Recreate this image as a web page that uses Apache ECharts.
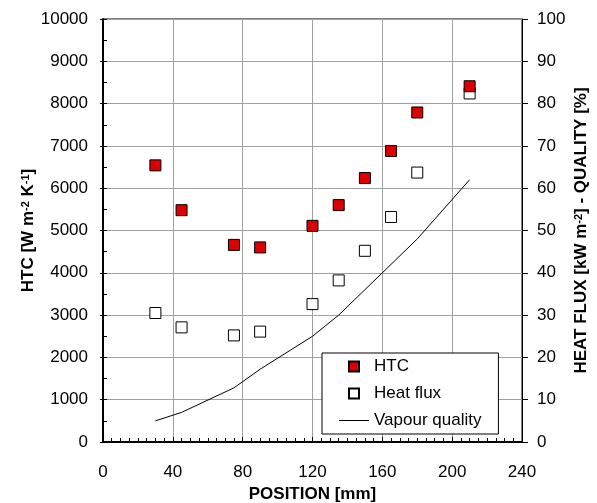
<!DOCTYPE html>
<html>
<head>
<meta charset="utf-8">
<script src="https://cdn.jsdelivr.net/npm/echarts@6/dist/echarts.min.js"></script>
<style>html,body{margin:0;padding:0;background:#fff}#c{width:597px;height:503px}</style>
</head>
<body>
<div id="c"></div>
<script>
var positions = [30, 45, 75, 90, 120, 135, 150, 165, 180, 210];
var htc = [6540, 5480, 4660, 4600, 5110, 5600, 6240, 6880, 7790, 8410];
var heatFlux = [30.5, 27.1, 25.2, 26.1, 32.6, 38.2, 45.2, 53.2, 63.7, 82.4];
var quality = [5, 7, 12.8, 17.2, 25, 30, 36, 42, 48, 62];
var xTicks = [0, 40, 80, 120, 160, 200, 240];

function pairs(xs, ys) { return xs.map(function (x, i) { return [x, ys[i]]; }); }
function plain(v) { return String(v); }

var FONT = 'Liberation Sans, Arial, sans-serif';
var chart = echarts.init(document.getElementById('c'), null, { renderer: 'canvas' });
var supRich = {
  s: { fontSize: 11, fontWeight: 'bold', fontFamily: FONT, color: '#000', verticalAlign: 'top', lineHeight: 12, padding: [0, 0, 8, 0] }
};
var SQUARE = 'path://M0,0L10,0L10,10L0,10Z';
var LINE = 'path://M0,0L30,0L30,1L0,1Z';
chart.setOption({
  animation: false,
  backgroundColor: '#fff',
  textStyle: { fontFamily: FONT },
  grid: { left: 103, right: 75, top: 19, bottom: 61, containLabel: false, outerBoundsMode: 'none',
          show: true, borderColor: '#000', borderWidth: 1, backgroundColor: 'transparent' },
  legend: {
    orient: 'vertical', left: 322, top: 353,
    padding: [5, 17, 5, 17], itemGap: 10, itemWidth: 30, itemHeight: 10,
    backgroundColor: '#fff', borderColor: '#000', borderWidth: 1, borderRadius: 0,
    textStyle: { fontSize: 17, color: '#000', fontFamily: FONT, lineHeight: 17 },
    data: [
      { name: 'HTC', icon: SQUARE },
      { name: 'Heat flux', icon: SQUARE },
      { name: 'Vapour quality', icon: LINE, itemStyle: { color: '#000', borderWidth: 0 } }
    ]
  },
  xAxis: {
    type: 'value', min: 0, max: 240, interval: 40,
    name: 'POSITION [mm]', nameLocation: 'middle', nameGap: 44, nameMoveOverlap: false,
    nameTextStyle: { fontSize: 17, fontWeight: 'bold', color: '#000', fontFamily: FONT },
    axisLine: { show: true, onZero: false, lineStyle: { color: '#000', width: 2 } },
    axisTick: { show: true, inside: true, length: 5, lineStyle: { color: '#000' } },
    minorTick: { show: true, splitNumber: 8, length: 4, lineStyle: { color: '#000' } },
    axisLabel: { fontSize: 17, color: '#000', margin: 22, fontFamily: FONT, formatter: plain },
    splitLine: { show: true, lineStyle: { color: '#a0a0a0', width: 1 } }
  },
  yAxis: [{
    type: 'value', min: 0, max: 10000, interval: 1000, position: 'left',
    name: 'HTC [W m{s|-2} K{s|-1}]', nameLocation: 'middle', nameGap: 66, nameMoveOverlap: false,
    nameTextStyle: { fontSize: 17, fontWeight: 'bold', color: '#000', fontFamily: FONT, rich: supRich },
    axisLine: { show: true, onZero: false, lineStyle: { color: '#000', width: 2 } },
    axisTick: { show: true, inside: true, length: 4, lineStyle: { color: '#000' } },
    minorTick: { show: true, splitNumber: 2, length: 4, lineStyle: { color: '#000' } },
    axisLabel: { fontSize: 17, color: '#000', margin: 15, fontFamily: FONT, formatter: plain },
    splitLine: { show: true, lineStyle: { color: '#a0a0a0', width: 1 } }
  }, {
    type: 'value', min: 0, max: 100, interval: 10, position: 'right',
    name: 'HEAT FLUX [kW m{s|-2}] - QUALITY [%]', nameLocation: 'middle', nameGap: 51, nameMoveOverlap: false,
    nameTextStyle: { fontSize: 17, fontWeight: 'bold', color: '#000', fontFamily: FONT, rich: supRich },
    axisLine: { show: true, onZero: false, lineStyle: { color: '#000', width: 1 } },
    axisTick: { show: true, inside: false, length: 6, lineStyle: { color: '#000' } },
    axisLabel: { fontSize: 17, color: '#000', margin: 15, fontFamily: FONT, formatter: plain },
    splitLine: { show: false }
  }, {
    type: 'value', min: 0, max: 10000, interval: 1000, position: 'left',
    axisLine: { show: false }, axisLabel: { show: false }, splitLine: { show: false },
    axisTick: { show: true, inside: false, length: 3, lineStyle: { color: '#000' } }
  }],
  series: [{
    name: 'HTC', type: 'scatter', yAxisIndex: 0, data: pairs(positions, htc),
    symbol: 'rect', symbolSize: 11, z: 5,
    itemStyle: { color: '#dd0000', borderColor: '#000', borderWidth: 1, opacity: 1 }
  }, {
    name: 'Heat flux', type: 'scatter', yAxisIndex: 1, data: pairs(positions, heatFlux),
    symbol: 'rect', symbolSize: 11, z: 4,
    itemStyle: { color: '#fff', borderColor: '#000', borderWidth: 1, opacity: 1 }
  }, {
    name: 'Vapour quality', type: 'line', yAxisIndex: 1, data: pairs(positions, quality),
    symbol: 'none', showSymbol: false, z: 3,
    lineStyle: { color: '#000', width: 1 }, itemStyle: { color: '#000' }
  }]
});
</script>
</body>
</html>
